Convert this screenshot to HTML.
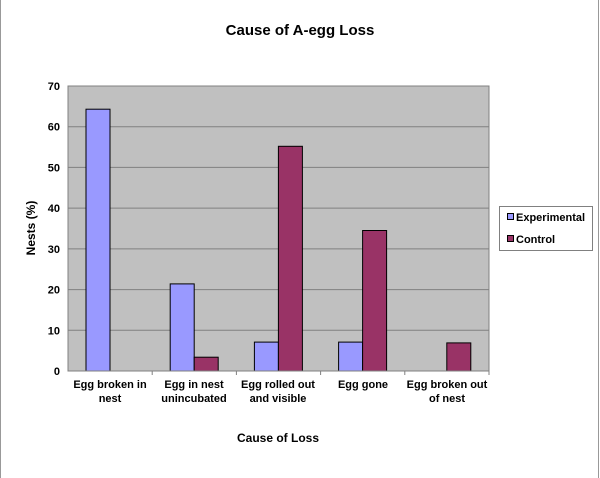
<!DOCTYPE html>
<html><head><style>body{margin:0;background:#fff}svg{display:block}text{font-family:"Liberation Sans",Arial,sans-serif;font-weight:bold;fill:#000}</style></head>
<body>
<svg width="600" height="478" viewBox="0 0 600 478" xmlns="http://www.w3.org/2000/svg">
<rect x="0" y="0" width="600" height="478" fill="#fff"/>
<line x1="0.5" y1="0" x2="0.5" y2="478" stroke="#999"/>
<line x1="598.5" y1="0" x2="598.5" y2="478" stroke="#999"/>
<text x="300" y="35" font-size="15" text-anchor="middle">Cause of A-egg Loss</text>
<rect x="68" y="86" width="421" height="285" fill="#c0c0c0" stroke="#808080"/>
<g stroke="#808080" stroke-width="1">
<line x1="68" y1="126.7" x2="489" y2="126.7"/>
<line x1="68" y1="167.4" x2="489" y2="167.4"/>
<line x1="68" y1="208.1" x2="489" y2="208.1"/>
<line x1="68" y1="248.9" x2="489" y2="248.9"/>
<line x1="68" y1="289.6" x2="489" y2="289.6"/>
<line x1="68" y1="330.3" x2="489" y2="330.3"/>
</g>
<g stroke="#000" stroke-width="1">
<rect x="86" y="109.2" width="24" height="261.8" fill="#9999ff"/>
<rect x="170.2" y="283.9" width="24" height="87.1" fill="#9999ff"/>
<rect x="194.2" y="357.2" width="24" height="13.8" fill="#993366"/>
<rect x="254.4" y="342.1" width="24" height="28.9" fill="#9999ff"/>
<rect x="278.4" y="146.3" width="24" height="224.7" fill="#993366"/>
<rect x="338.6" y="342.1" width="24" height="28.9" fill="#9999ff"/>
<rect x="362.6" y="230.5" width="24" height="140.5" fill="#993366"/>
<rect x="446.8" y="342.9" width="24" height="28.1" fill="#993366"/>
</g>
<g stroke="#808080">
<line x1="68" y1="371" x2="489" y2="371"/>
<line x1="68" y1="86" x2="68" y2="371"/>
<line x1="152.2" y1="371" x2="152.2" y2="375"/>
<line x1="236.4" y1="371" x2="236.4" y2="375"/>
<line x1="320.6" y1="371" x2="320.6" y2="375"/>
<line x1="404.8" y1="371" x2="404.8" y2="375"/>
<line x1="489" y1="371" x2="489" y2="375"/>
</g>
<g font-size="11" text-anchor="end">
<text x="60" y="375">0</text><text x="60" y="334.3">10</text><text x="60" y="293.6">20</text><text x="60" y="252.9">30</text><text x="60" y="212.1">40</text><text x="60" y="171.4">50</text><text x="60" y="130.7">60</text><text x="60" y="90">70</text>
</g>
<g font-size="11" text-anchor="middle">
<text x="110" y="388">Egg broken in</text><text x="110" y="402">nest</text>
<text x="194" y="388">Egg in nest</text><text x="194" y="402">unincubated</text>
<text x="278" y="388">Egg rolled out</text><text x="278" y="402">and visible</text>
<text x="363" y="388">Egg gone</text>
<text x="447" y="388">Egg broken out</text><text x="447" y="402">of nest</text>
</g>
<text x="278" y="442" font-size="12" text-anchor="middle">Cause of Loss</text>
<text transform="translate(35,228) rotate(-90)" font-size="12" text-anchor="middle">Nests (%)</text>
<rect x="499.5" y="206.5" width="93" height="44" fill="#fff" stroke="#808080"/>
<rect x="507.5" y="213.5" width="6" height="6" fill="#9999ff" stroke="#000"/>
<text x="516" y="221" font-size="11">Experimental</text>
<rect x="507.5" y="235.5" width="6" height="6" fill="#993366" stroke="#000"/>
<text x="516" y="243" font-size="11">Control</text>
</svg>
</body></html>
